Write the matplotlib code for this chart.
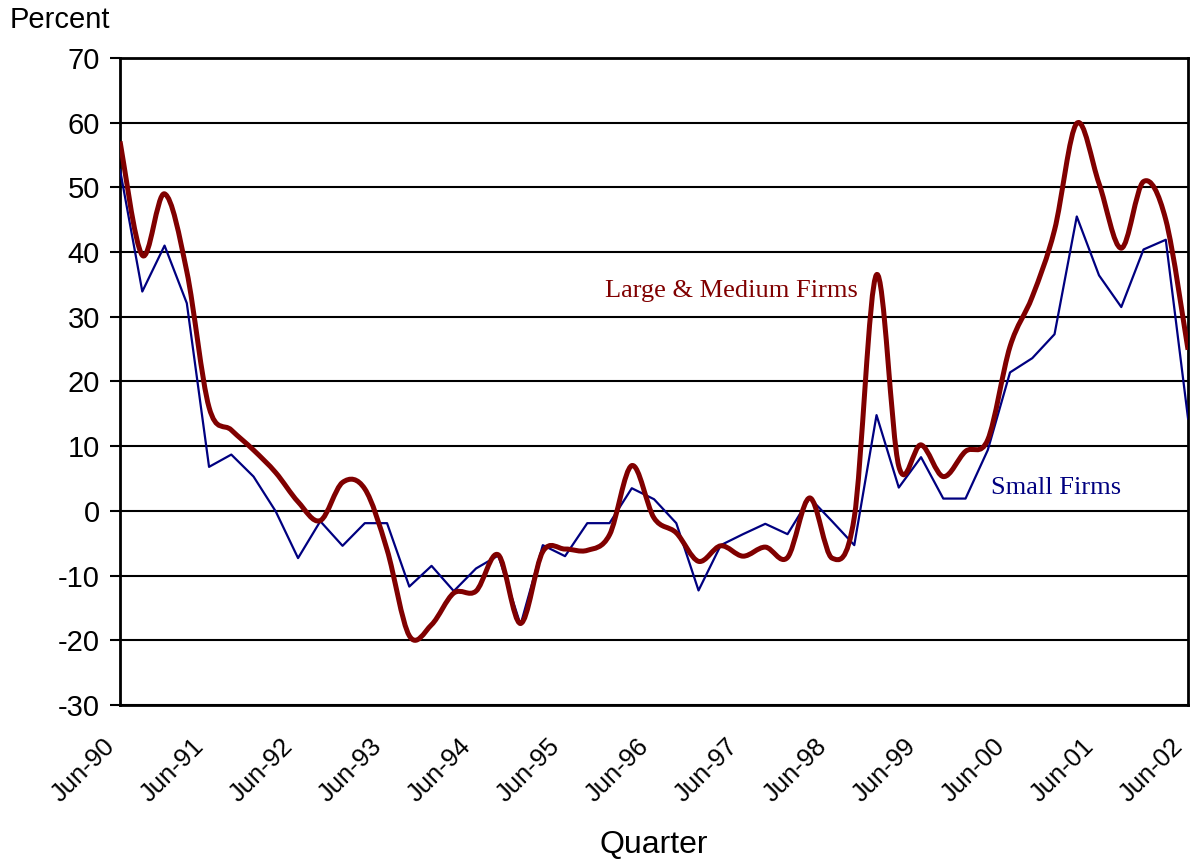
import matplotlib
matplotlib.use("Agg")
import matplotlib.pyplot as plt
from matplotlib.path import Path
from matplotlib.patches import PathPatch
from matplotlib.transforms import ScaledTranslation
import numpy as np

# quarterly survey results, Jun-90 .. Jun-02
quarters = np.arange(49)
year_labels = ["Jun-90", "Jun-91", "Jun-92", "Jun-93", "Jun-94", "Jun-95", "Jun-96",
               "Jun-97", "Jun-98", "Jun-99", "Jun-00", "Jun-01", "Jun-02"]

large_medium = [57.1, 39.5, 49.0, 37.0, 16.0, 12.5, 9.4, 5.9, 1.4, -1.5,
                4.4, 3.4, -6.0, -19.3, -17.6, -12.7, -12.4, -6.8, -17.4, -6.3,
                -5.9, -6.1, -3.7, 7.0, -1.1, -3.4, -7.8, -5.4, -7.0, -5.6,
                -7.2, 2.0, -7.3, -1.0, 36.5, 6.9, 10.2, 5.3, 9.2, 11.0,
                25.4, 33.1, 43.4, 59.9, 50.6, 40.6, 50.9, 45.0, 24.9]

small = [52.7, 33.9, 41.0, 32.1, 6.8, 8.7, 5.3, -0.1, -7.3, -1.6,
         -5.4, -1.9, -1.9, -11.7, -8.5, -12.4, -8.9, -6.9, -17.6, -5.3,
         -7.0, -1.9, -1.9, 3.5, 1.8, -1.9, -12.3, -5.3, -3.6, -2.0,
         -3.6, 2.0, -1.6, -5.3, 14.8, 3.6, 8.3, 1.9, 1.9, 9.4,
         21.4, 23.6, 27.3, 45.5, 36.4, 31.5, 40.4, 41.9, 14.3]

plt.rcParams['font.family'] = ['Liberation Sans', 'DejaVu Sans']
plt.rcParams['axes.unicode_minus'] = False


def smooth_path(x, y):
    # spreadsheet-style smoothed line: cubic bezier through every point
    pts = np.column_stack([x, y]).astype(float)
    n = len(pts)
    verts = [pts[0]]
    codes = [Path.MOVETO]
    for i in range(n - 1):
        p_prev = pts[i - 1] if i > 0 else pts[i]
        p0 = pts[i]
        p1 = pts[i + 1]
        p_next = pts[i + 2] if i + 2 < n else pts[i + 1]
        c1 = p0 + (p1 - p_prev) / 6.0
        c2 = p1 - (p_next - p0) / 6.0
        verts += [c1, c2, p1]
        codes += [Path.CURVE4] * 3
    return Path(verts, codes)


fig = plt.figure(figsize=(11.91, 8.65), dpi=100)
ax = fig.add_axes([0.1008, 0.185, 0.8967, 0.748])

ax.plot(quarters, small, color="#000080", lw=1.6, zorder=3)
ax.add_patch(PathPatch(smooth_path(quarters, large_medium), fill=False,
                       edgecolor="#800000", lw=3.6, zorder=4,
                       capstyle="butt", joinstyle="round"))

ax.set_xlim(0, 48)
ax.set_ylim(-30, 70)
ax.set_yticks(np.arange(-30, 71, 10))
ax.set_xticks(quarters[::4])
ax.set_xticklabels(year_labels, rotation=45, ha="right", rotation_mode="anchor")

ax.grid(axis="y", color="black", lw=1.5)
ax.set_axisbelow(True)
for s in ax.spines.values():
    s.set_linewidth(2.0)
    s.set_color("black")

ax.tick_params(axis="y", direction="out", length=7, width=1.5, pad=7.5, labelsize=21)
ax.tick_params(axis="x", length=0, pad=21, labelsize=18.5)

# nudge the slanted date labels left of their tick
shift = ScaledTranslation(-17 / 100, 0, fig.dpi_scale_trans)
for lab in ax.get_xticklabels():
    lab.set_transform(lab.get_transform() + shift)

fig.text(654 / 1191, 1 - 845 / 865, "Quarter", fontsize=23, ha="center", va="center")
fig.text(10 / 1191, 1 - 28 / 865, "Percent", fontsize=21, ha="left", va="baseline")

ax.text(21.8, 33.0, "Large & Medium Firms", color="#800000", fontsize=19,
        family="Liberation Serif", ha="left", va="baseline")
ax.text(39.13, 2.6, "Small Firms", color="#000080", fontsize=19,
        family="Liberation Serif", ha="left", va="baseline")

fig.savefig("out.png", dpi=100, facecolor="white")
